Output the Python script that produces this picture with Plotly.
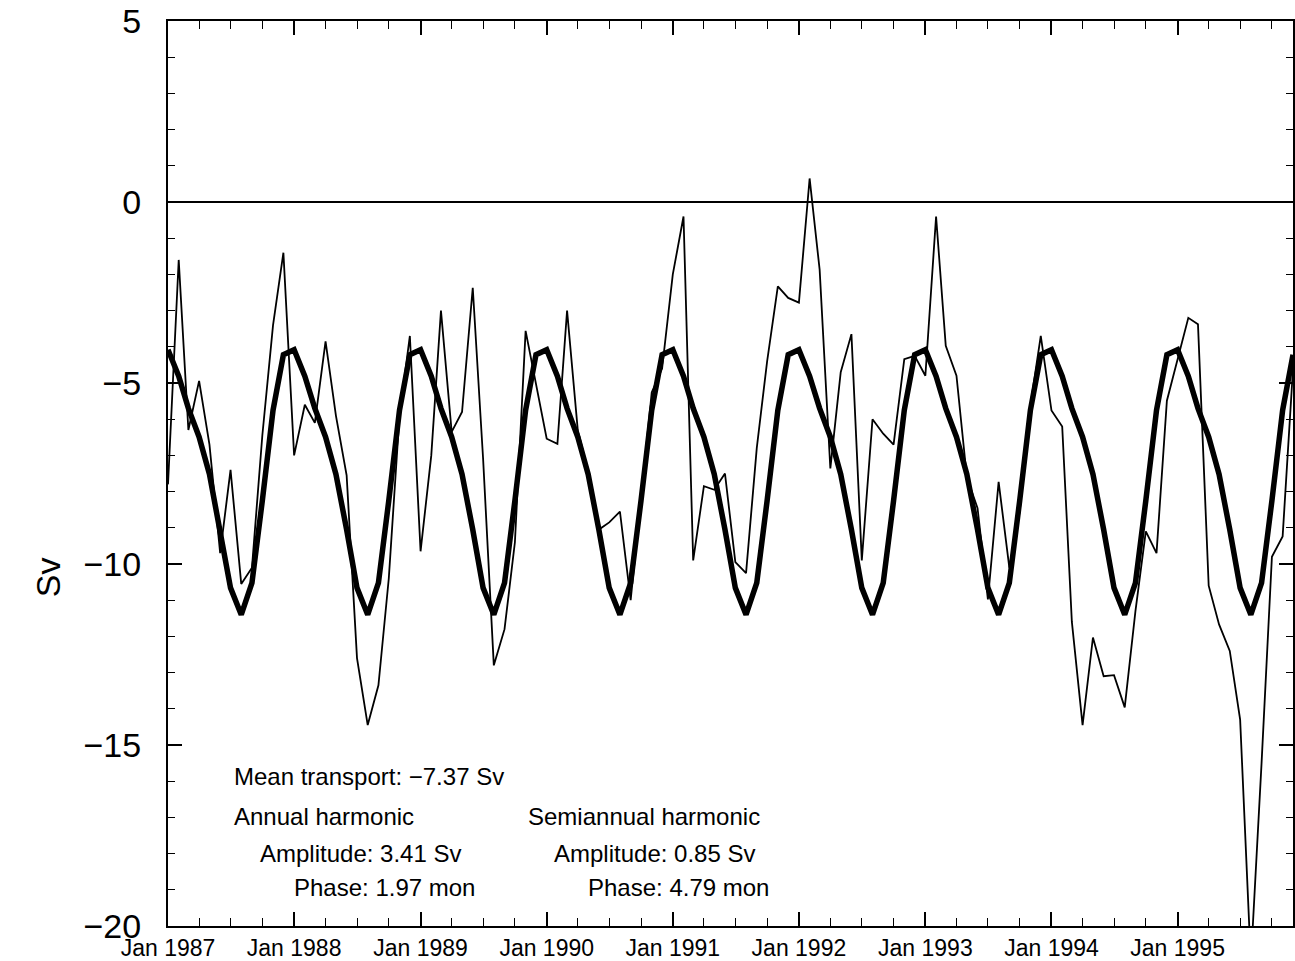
import pandas as pd
import plotly.graph_objects as go

# Monthly transport, Jan 1987 - Dec 1995 (Sv)
transport = [
    -7.8, -1.6, -6.3, -4.94, -6.7, -9.7, -7.4, -10.55, -10.1, -6.45, -3.4, -1.4,
    -7.0, -5.6, -6.1, -3.85, -5.9, -7.55, -12.6, -14.45, -13.35, -10.4, -5.9, -3.7,
    -9.65, -7.0, -3.0, -6.35, -5.8, -2.37, -7.1, -12.8, -11.8, -9.4, -3.56, -5.0,
    -6.54, -6.68, -3.0, -6.3, -7.45, -9.05, -8.85, -8.55, -11.0, -8.2, -5.26, -4.6,
    -2.0, -0.4, -9.9, -7.85, -7.95, -7.5, -9.95, -10.25, -6.8, -4.4, -2.33, -2.65,
    -2.78, 0.65, -1.87, -7.36, -4.7, -3.65, -9.9, -6.0, -6.4, -6.7, -4.34, -4.25,
    -4.8, -0.4, -3.97, -4.8, -7.6, -8.46, -10.98, -7.73, -10.1, -8.55, -5.62, -3.7,
    -5.76, -6.2, -11.6, -14.45, -12.03, -13.1, -13.07, -13.96, -11.3, -9.1, -9.7, -5.49,
    -4.34, -3.2, -3.38, -10.6, -11.67, -12.4, -14.3, -21.0, -15.5, -9.8, -9.24, -4.6,
]

# Mean + annual + semiannual harmonic fit (Sv), one value per month
harmonic_fit = [
    -4.08, -4.81, -5.70, -6.49, -7.52, -9.05, -10.66, -11.40, -10.52, -8.25, -5.75, -4.22,
    -4.08, -4.81, -5.70, -6.49, -7.52, -9.05, -10.66, -11.40, -10.52, -8.25, -5.75, -4.22,
    -4.08, -4.81, -5.70, -6.49, -7.52, -9.05, -10.66, -11.40, -10.52, -8.25, -5.75, -4.22,
    -4.08, -4.81, -5.70, -6.49, -7.52, -9.05, -10.66, -11.40, -10.52, -8.25, -5.75, -4.22,
    -4.08, -4.81, -5.70, -6.49, -7.52, -9.05, -10.66, -11.40, -10.52, -8.25, -5.75, -4.22,
    -4.08, -4.81, -5.70, -6.49, -7.52, -9.05, -10.66, -11.40, -10.52, -8.25, -5.75, -4.22,
    -4.08, -4.81, -5.70, -6.49, -7.52, -9.05, -10.66, -11.40, -10.52, -8.25, -5.75, -4.22,
    -4.08, -4.81, -5.70, -6.49, -7.52, -9.05, -10.66, -11.40, -10.52, -8.25, -5.75, -4.22,
    -4.08, -4.81, -5.70, -6.49, -7.52, -9.05, -10.66, -11.40, -10.52, -8.25, -5.75, -4.22,
]

months = pd.date_range("1987-01-01", periods=len(transport), freq="MS")

stats_lines = [
    ("Mean transport: \u22127.37 Sv", 0.0568, -15.87),
    ("Annual harmonic", 0.0568, -16.97),
    ("Semiannual harmonic", 0.3185, -16.97),
    ("Amplitude: 3.41 Sv", 0.0799, -17.99),
    ("Amplitude: 0.85 Sv", 0.3416, -17.99),
    ("Phase: 1.97 mon", 0.1100, -18.95),
    ("Phase: 4.79 mon", 0.3718, -18.95),
]

FONT = "Liberation Sans, Arial, sans-serif"

fig = go.Figure()
fig.add_trace(go.Scatter(x=months, y=transport, mode="lines",
                         line=dict(color="black", width=1.8), showlegend=False))
fig.add_trace(go.Scatter(x=months, y=harmonic_fit, mode="lines",
                         line=dict(color="black", width=5.5), showlegend=False))

for text, xp, yv in stats_lines:
    fig.add_annotation(text=text, x=xp, y=yv, xref="paper", yref="y",
                       xanchor="left", yanchor="middle", showarrow=False,
                       font=dict(family=FONT, size=24, color="black"))

fig.add_annotation(text="Sv", x=-0.107, y=0.385, xref="paper", yref="paper",
                   textangle=-90, showarrow=False, xanchor="center", yanchor="middle",
                   font=dict(family=FONT, size=34, color="black"))

fig.update_xaxes(
    type="date", range=["1987-01-01", "1995-12-01"],
    tickformat="%b %Y", dtick="M12", tick0="1987-01-01",
    ticks="inside", ticklen=14, tickwidth=1.5, tickcolor="black",
    minor=dict(dtick="M3", ticks="inside", ticklen=8, tickwidth=1.2, tickcolor="black"),
    showline=True, linecolor="black", linewidth=2, mirror="allticks",
    showgrid=False, zeroline=False,
    tickfont=dict(family=FONT, size=23, color="black"),
)
fig.update_yaxes(
    range=[-20, 5], dtick=5, tick0=0,
    ticks="inside", ticklen=14, tickwidth=1.5, tickcolor="black",
    minor=dict(dtick=1, ticks="inside", ticklen=7, tickwidth=1.2, tickcolor="black"),
    showline=True, linecolor="black", linewidth=2, mirror="allticks",
    showgrid=False, zeroline=True, zerolinecolor="black", zerolinewidth=1.5,
    tickfont=dict(family=FONT, size=34, color="black"),
    ticklabelstandoff=18,
)
fig.update_layout(
    width=1295, height=961,
    margin=dict(l=168, r=0, t=21, b=31),
    paper_bgcolor="white", plot_bgcolor="white",
    font=dict(family=FONT, color="black"),
)

fig.write_html("out.html")
